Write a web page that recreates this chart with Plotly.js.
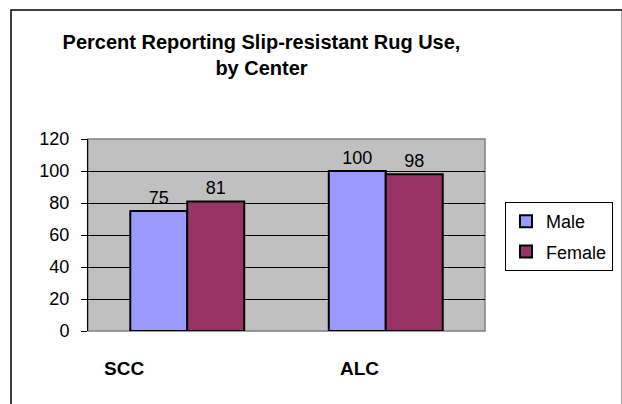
<!DOCTYPE html>
<html>
<head>
<meta charset="utf-8">
<script src="https://cdn.plot.ly/plotly-3.0.1.min.js"></script>
<style>
  html, body { margin: 0; padding: 0; background: #ffffff; }
  #chart { width: 622px; height: 404px; }
</style>
</head>
<body>
<div id="chart"></div>
<script>
// ---- data ----
var centers = ['SCC', 'ALC'];
var seriesNames = ['Male', 'Female'];
var maleValues = [75, 100];
var femaleValues = [81, 98];
var yTickValues = [0, 20, 40, 60, 80, 100, 120];
var yGridValues = [20, 40, 60, 80, 100];
var chartTitle = 'Percent Reporting Slip-resistant Rug Use,<br>by Center';

// ---- styling ----
var FONT = 'Liberation Sans, Arial, sans-serif';
var maleColor = '#9999FF';
var femaleColor = '#993366';

// plot area in pixels: left 88, right 485, top 139, bottom 331
var W = 622, H = 404;
var L = 88, R = 485, T = 139, B = 331;
function px2paperX(px) { return (px - L) / (R - L); }
function px2paperY(py) { return (B - py) / (B - T); }

var labelCentersPx = [124, 359.5]; // where the category labels sit

var traces = [
  {
    type: 'bar', name: seriesNames[0], x: centers, y: maleValues,
    marker: { color: maleColor, line: { color: '#000000', width: 2 } },
    texttemplate: '%{y}', textposition: 'outside', cliponaxis: false,
    textfont: { family: FONT, size: 18, color: '#000000' },
    legendgroup: 'm', hoverinfo: 'none'
  },
  {
    type: 'bar', name: seriesNames[1], x: centers, y: femaleValues,
    marker: { color: femaleColor, line: { color: '#000000', width: 2 } },
    texttemplate: '%{y}', textposition: 'outside', cliponaxis: false,
    textfont: { family: FONT, size: 18, color: '#000000' },
    legendgroup: 'f', hoverinfo: 'none'
  }
];

var annotations = centers.map(function (c, i) {
  return {
    text: '<b>' + c + '</b>', xref: 'paper', yref: 'paper',
    x: px2paperX(labelCentersPx[i]), y: px2paperY(368),
    xanchor: 'center', yanchor: 'middle', showarrow: false,
    font: { family: FONT, size: 19, color: '#000000' }
  };
});

var layout = {
  width: W, height: H,
  margin: { l: L, r: W - R, t: T, b: H - B, pad: 0, autoexpand: false },
  paper_bgcolor: '#ffffff',
  plot_bgcolor: '#C0C0C0',
  barmode: 'group',
  bargap: 0.426,
  bargroupgap: 0,
  showlegend: true,
  title: {
    text: chartTitle,
    font: { family: FONT, size: 20, color: '#000000', weight: 'bold' },
    xref: 'container', x: 261.5 / W, xanchor: 'center',
    yref: 'container', y: 1 - 49 / H, yanchor: 'top'
  },
  xaxis: {
    type: 'category', showticklabels: false, ticks: '',
    showgrid: false, zeroline: false, showline: false, fixedrange: true
  },
  yaxis: {
    range: [0, 120], tickmode: 'array', tickvals: yTickValues,
    ticks: 'outside', ticklen: 6, tickcolor: '#000000', tickwidth: 1,
    showline: true, linecolor: '#000000', linewidth: 1,
    showgrid: false, zeroline: false,
    minor: { tickmode: 'array', tickvals: yGridValues, showgrid: true,
             gridcolor: '#000000', gridwidth: 1, ticks: '' },
    tickfont: { family: FONT, size: 18, color: '#000000' },
    ticklabelstandoff: 8, fixedrange: true
  },
  legend: {
    xref: 'container', yref: 'container',
    x: 505 / W, y: 1 - 202 / H, xanchor: 'left', yanchor: 'top',
    bgcolor: '#ffffff', bordercolor: '#000000', borderwidth: 1,
    font: { family: FONT, size: 18, color: '#000000' },
    traceorder: 'grouped', tracegroupgap: 4
  },
  annotations: annotations,
  shapes: [
    { type: 'rect', xref: 'paper', yref: 'paper', x0: 0, x1: 1, y0: 0, y1: 1,
      line: { color: '#808080', width: 1.5 }, fillcolor: 'rgba(0,0,0,0)', layer: 'below' },
    { type: 'rect', xref: 'paper', yref: 'paper',
      x0: px2paperX(11), x1: px2paperX(622.4), y0: px2paperY(430), y1: px2paperY(10),
      line: { color: '#000000', width: 1.5 }, fillcolor: 'rgba(0,0,0,0)', layer: 'above' }
  ]
};

Plotly.newPlot('chart', traces, layout, { displayModeBar: false, staticPlot: true });
</script>
</body>
</html>
